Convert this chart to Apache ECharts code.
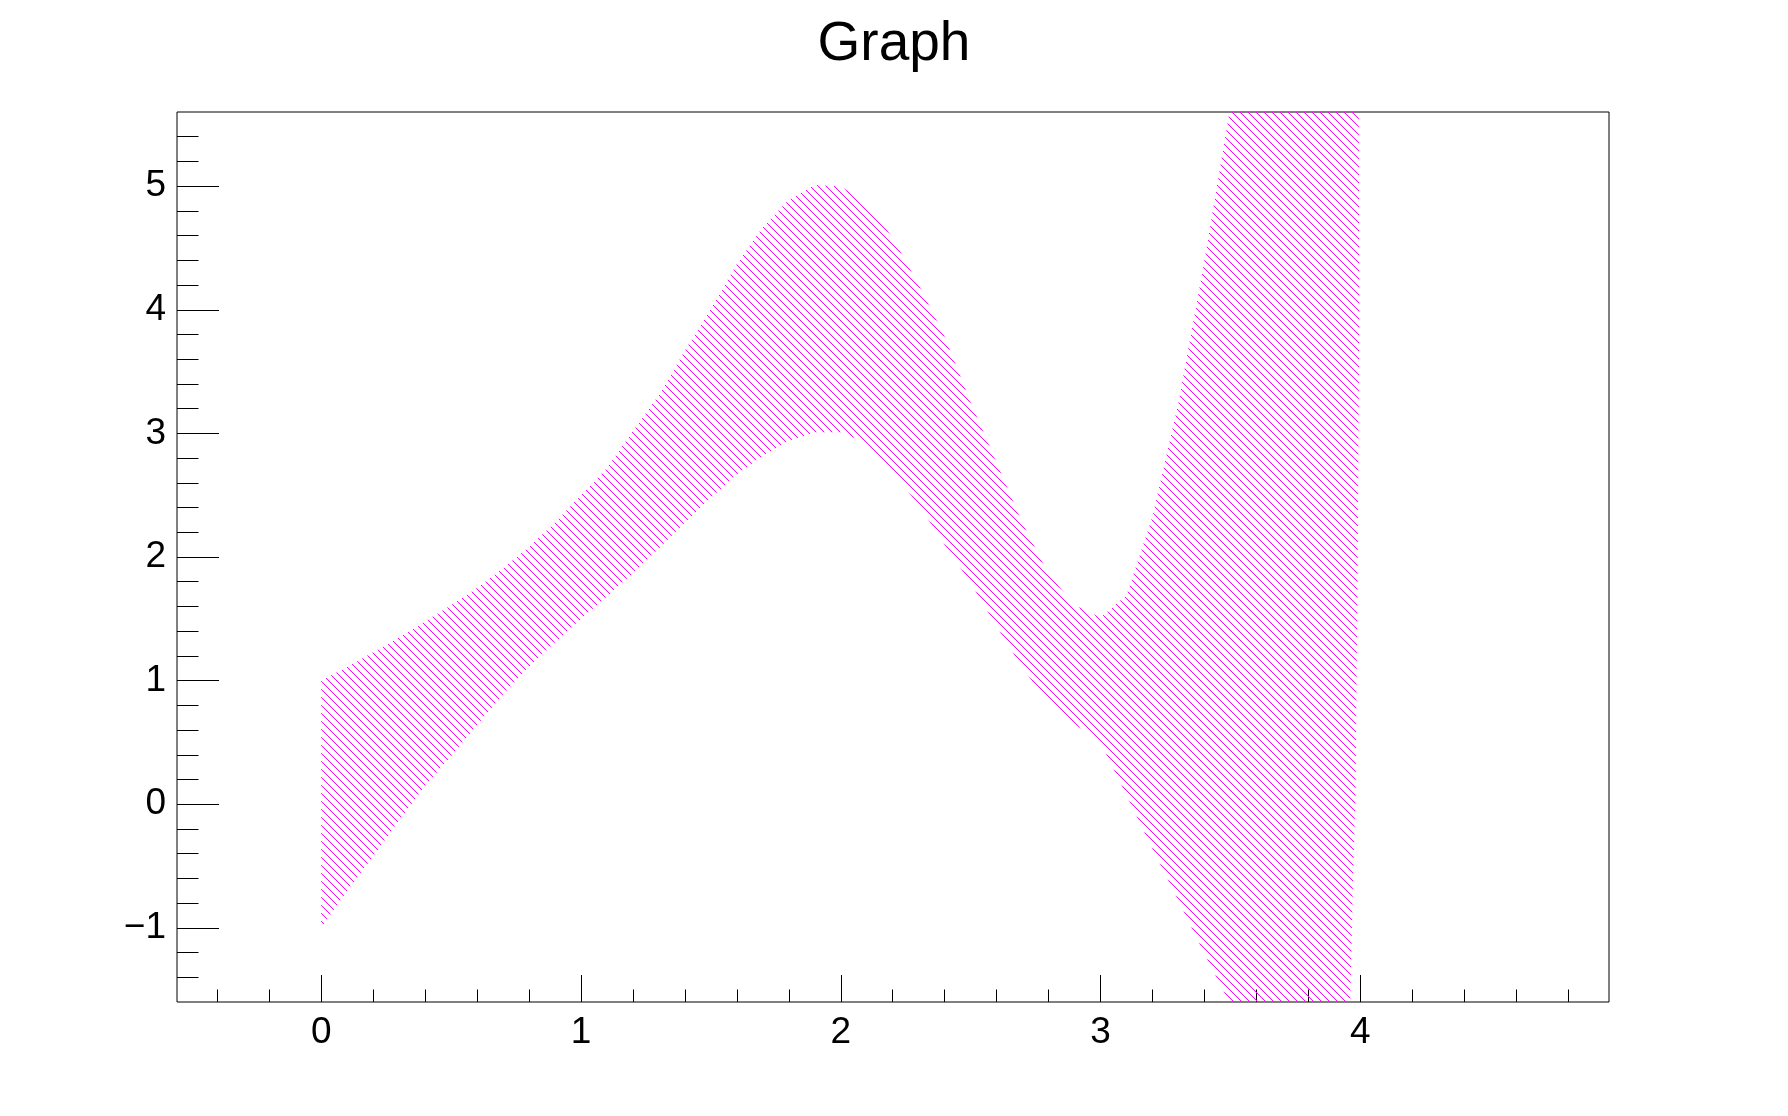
<!DOCTYPE html>
<html>
<head>
<meta charset="utf-8">
<script src="https://cdn.jsdelivr.net/npm/echarts@6/dist/echarts.min.js"></script>
<style>
html,body{margin:0;padding:0;background:#fff;}
#chart{width:1788px;height:1116px;}
</style>
</head>
<body>
<div id="chart"></div>
<script>
// ---- data ----
const titleText = 'Graph';
const xRange = [-0.555, 4.957];
const yRange = [-1.6, 5.6];

// upper edge of the shaded band
const upperX = [0,0.1,0.2,0.3,0.4,0.5,0.6,0.7,0.8,0.9,1.0,1.1,1.2,1.3,1.4,1.5,1.6,1.7,1.8,1.9,2.0,2.1,2.2,2.3,2.4,2.5,2.6,2.7,2.8,2.9,3.0,3.1,3.2,3.3,3.4,3.5,3.6,3.7,3.8,3.9,3.993,3.996];
const upperY = [1.00,1.11,1.23,1.35,1.48,1.61,1.75,1.91,2.08,2.28,2.50,2.72,3.02,3.31,3.67,4.01,4.37,4.67,4.89,5.01,5.00,4.86,4.58,4.20,3.78,3.25,2.76,2.27,1.86,1.61,1.51,1.69,2.33,3.25,4.40,5.65,6.6,7.2,7.5,7.2,6.2,4.0];

// lower edge of the shaded band
const lowerX = [0,0.1,0.2,0.3,0.4,0.5,0.6,0.7,0.8,0.9,1.0,1.1,1.2,1.3,1.4,1.5,1.6,1.7,1.8,1.9,2.0,2.1,2.2,2.3,2.4,2.5,2.6,2.7,2.8,2.9,3.0,3.1,3.2,3.3,3.4,3.5,3.6,3.7,3.8,3.9,3.955,3.961,3.973,3.981,3.99];
const lowerY = [-1.00,-0.70,-0.42,-0.13,0.15,0.39,0.64,0.89,1.11,1.31,1.50,1.68,1.87,2.07,2.28,2.48,2.67,2.82,2.94,3.01,3.01,2.92,2.69,2.42,2.10,1.79,1.44,1.10,0.82,0.65,0.50,0.07,-0.36,-0.78,-1.21,-1.62,-2.0,-2.3,-2.4,-2.3,-1.9,-1.6,-0.5,0.04,2.0];

// tick positions / labels
const xMajorTicks = [0, 1, 2, 3, 4];
const xMinorTicks = [-0.4,-0.2,0,0.2,0.4,0.6,0.8,1,1.2,1.4,1.6,1.8,2,2.2,2.4,2.6,2.8,3,3.2,3.4,3.6,3.8,4,4.2,4.4,4.6,4.8];
const yMajorTicks = [-1, 0, 1, 2, 3, 4, 5];
const yMinorTicks = [-1.4,-1.2,-1,-0.8,-0.6,-0.4,-0.2,0,0.2,0.4,0.6,0.8,1,1.2,1.4,1.6,1.8,2,2.2,2.4,2.6,2.8,3,3.2,3.4,3.6,3.8,4,4.2,4.4,4.6,4.8,5,5.2,5.4];

// ---- hatch pattern (ROOT fill style 3005 look) ----
const tile = document.createElement('canvas');
tile.width = 8; tile.height = 8;
const tctx = tile.getContext('2d');
tctx.fillStyle = '#ff00ff';
for (let i = 0; i < 8; i++) tctx.fillRect(i, i, 1, 1);

const FONT = "'Liberation Sans', Arial, Helvetica, sans-serif";
const fmt = v => String(Math.round(v)).replace('-', '\u2212');

function majorAxis(range, ticks, tickLen, margin, padding) {
  return {
    type: 'value', min: range[0], max: range[1],
    axisLine: {show: false, onZero: false}, splitLine: {show: false},
    axisTick: {show: true, inside: true, length: tickLen, customValues: ticks, lineStyle: {color: '#000', width: 1}},
    axisLabel: {show: true, margin: margin, color: '#000', fontSize: 37, fontFamily: FONT, padding: padding,
                customValues: ticks, hideOverlap: false, formatter: fmt}
  };
}
function minorAxis(range, ticks, tickLen) {
  return {
    type: 'value', min: range[0], max: range[1],
    axisLine: {show: false, onZero: false}, splitLine: {show: false},
    axisTick: {show: true, inside: true, length: tickLen, customValues: ticks, lineStyle: {color: '#000', width: 1}},
    axisLabel: {show: false}
  };
}

const xMinor = minorAxis(xRange, xMinorTicks, 12.5); xMinor.position = 'bottom';
const yMinor = minorAxis(yRange, yMinorTicks, 21.5); yMinor.position = 'left';

const chart = echarts.init(document.getElementById('chart'), null, {renderer: 'canvas'});
chart.setOption({
  animation: false,
  backgroundColor: '#fff',
  title: {
    text: titleText,
    left: 'center',
    top: 12,
    textStyle: {fontFamily: FONT, fontSize: 55, fontWeight: 'normal', color: '#000'}
  },
  grid: {
    left: 177, top: 112, width: 1432, height: 890,
    show: true, borderColor: '#000', borderWidth: 1, backgroundColor: 'transparent'
  },
  xAxis: [majorAxis(xRange, xMajorTicks, 27, 12, 0), xMinor],
  yAxis: [majorAxis(yRange, yMajorTicks, 42, 11, [4, 0, 0, 0]), yMinor],
  series: [{
    type: 'custom',
    name: 'band',
    xAxisIndex: 0, yAxisIndex: 0,
    clip: true, silent: true,
    data: [[0, 0]],
    renderItem: function (params, api) {
      const pts = [];
      for (let i = 0; i < upperX.length; i++) pts.push(api.coord([upperX[i], upperY[i]]));
      for (let i = lowerX.length - 1; i >= 0; i--) pts.push(api.coord([lowerX[i], lowerY[i]]));
      return {
        type: 'polygon',
        shape: {points: pts},
        style: {fill: {image: tile, repeat: 'repeat'}, stroke: null, lineWidth: 0}
      };
    }
  }]
});
</script>
</body>
</html>
